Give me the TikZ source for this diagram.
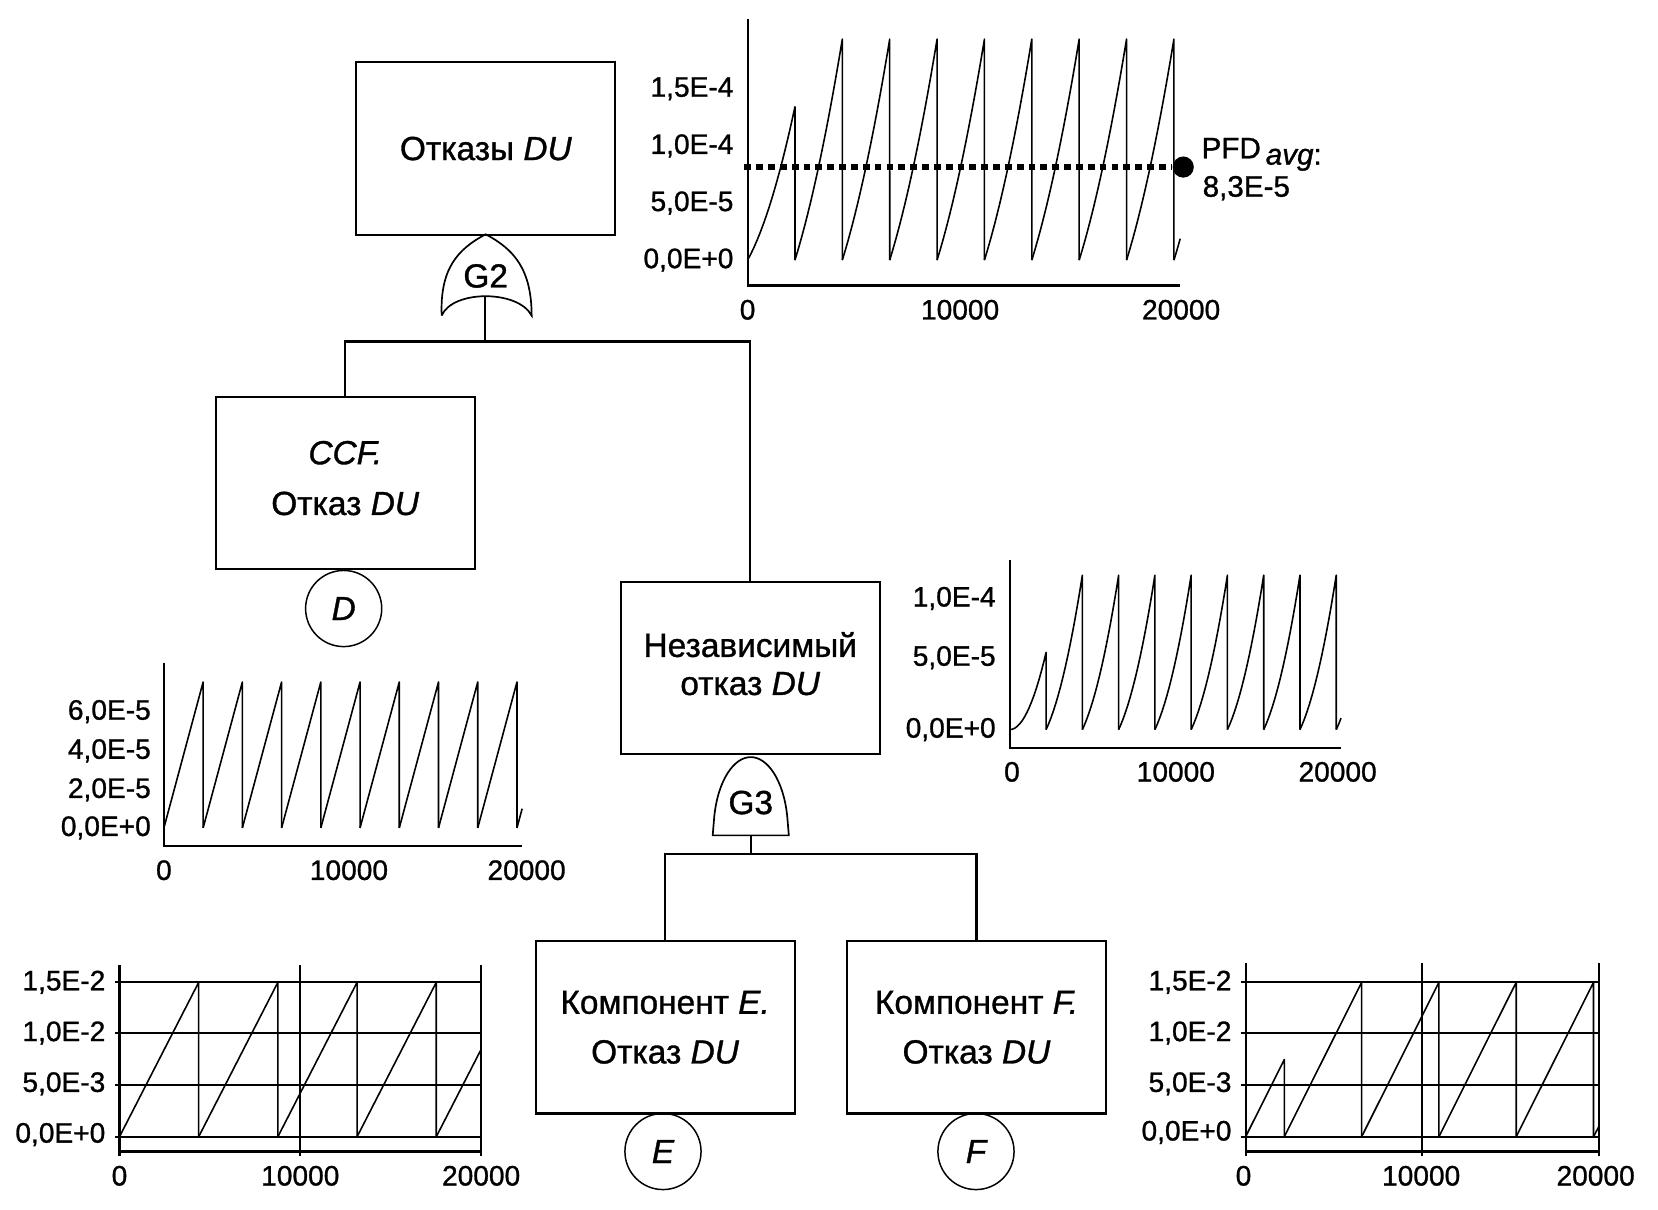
\documentclass[tikz,border=0pt]{standalone}
\usepackage{fontspec}
\setmainfont{Liberation Sans}[FakeBold=1.0]
\begin{document}
\begin{tikzpicture}[x=0.5pt,y=-0.5pt,
  evbox/.style={draw,line width=1pt,minimum width=122.5pt,minimum height=81.5pt,align=center,inner sep=0pt,font=\fontsize{15.8}{19}\selectfont},
  gateln/.style={draw,line width=0.8pt},
  gatelbl/.style={inner sep=0pt,font=\fontsize{15.8}{19}\selectfont},
  evt/.style={draw,circle,line width=0.7pt,minimum size=36pt,inner sep=0pt,font=\fontsize{15.8}{19}\selectfont\itshape},
  conn/.style={line width=1pt},
  axisln/.style={line width=1pt},
  sawln/.style={line width=0.75pt,line join=round},
  gridln/.style={line width=0.8pt},
  ticklbl/.style={inner sep=0pt,font=\fontsize{13.3}{16}\selectfont}]

\useasboundingbox (0,0) rectangle (1568,1144);

% ---------------- fault tree ----------------
\node[evbox] (A) at (459.5,140.5) {Отказы \textit{DU}};
\node[evbox] (B) at (326.5,457) {\textit{CCF.}\\[5pt]Отказ \textit{DU}\\[-14pt]\mbox{}};
\node[evbox] (C) at (709.5,631.5) {Независимый\\[-1pt]отказ \textit{DU}\\[-15pt]\mbox{}};
\node[evbox] (EB) at (629,971.5) {Компонент \textit{E.}\\[4.5pt]Отказ \textit{DU}};
\node[evbox] (FB) at (923.5,971.5) {Компонент \textit{F.}\\[4.5pt]Отказ \textit{DU}};

\node[evt] (D) at (325,575.5) {D};
\node[evt] (E) at (627,1089) {E};
\node[evt] (F) at (923,1089) {F};

% OR gate G2
\draw[gateln] (417.7,298.5) .. controls (416,255) and (432,236) .. (459.3,221.6)
  .. controls (486.6,236) and (502.6,255) .. (502.8,298.5)
  .. controls (490,274) and (428,274) .. (417.7,298.5);
\node[gatelbl] (G2) at (459.3,261) {G2};
\coordinate (g2b) at (458.5,280);
\coordinate (j2) at (458.5,323);
\draw[conn] (g2b) -- (j2);
\draw[conn] (B.north) |- (j2) -| (C.north);

% AND gate G3
\draw[gateln] (674,790) -- (675.5,772) .. controls (679,738) and (694,716) .. (710,716)
  .. controls (726,716) and (741,738) .. (744.5,772) -- (746,790) -- cycle;
\node[gatelbl] (G3) at (710,759) {G3};
\coordinate (g3b) at (710,790);
\coordinate (j3) at (710,808);
\draw[conn] (g3b) -- (j3);
\draw[conn] (EB.north) |- (j3) -| (FB.north);

% ---------------- chart: top (PFD total) ----------------
\draw[axisln] (707,18) -- (707,270) -- (1116,270);
\node[ticklbl,anchor=east] (c1y1) at (694,84) {1,5E-4};
\node[ticklbl,anchor=east] (c1y2) at (694,138) {1,0E-4};
\node[ticklbl,anchor=east] (c1y3) at (694,192) {5,0E-5};
\node[ticklbl,anchor=east] (c1y4) at (694,246) {0,0E+0};
\node[ticklbl] (c1x1) at (707,293) {0};
\node[ticklbl] (c1x2) at (908,293) {10000};
\node[ticklbl] (c1x3) at (1117,293) {20000};
\draw[sawln] (707,246) -- plot[domain=0:1,samples=16] ({707+44.8*\x},{246-81*\x-64*\x*\x}) -- (751.8,246);
\foreach \k in {1,...,8}
  \draw[sawln] ({707+44.8*\k},246) -- plot[domain=0:1,samples=16] ({707+44.8*(\k+\x)},{246-81*\x-64*\x*(\x+1)}) -- ({707+44.8*(\k+1)},246);
\draw[sawln] ({707+44.8*9},246) -- plot[domain=0:0.132,samples=4] ({707+44.8*(9+\x)},{246-81*\x-64*\x*(\x+1)});
\coordinate (pfds) at (704,158);
\node[circle,fill,inner sep=0pt,minimum size=10pt] (pfddot) at (1119,158) {};
\draw[line width=3pt,dash pattern=on 3.2pt off 2.4pt] (pfds) -- (pfddot);
\node[anchor=west,inner sep=0pt,font=\fontsize{14}{17}\selectfont] (pfdl) at (1136,146) {PFD\,\raisebox{-3pt}{\textit{avg}:}};
\node[anchor=west,inner sep=0pt,font=\fontsize{14}{17}\selectfont] (pfdv) at (1137,178) {8,3E-5};

% ---------------- chart: D ----------------
\draw[axisln] (155,627) -- (155,800) -- (494,800);
\node[ticklbl,anchor=east] (c2y1) at (143,673) {6,0E-5};
\node[ticklbl,anchor=east] (c2y2) at (143,710) {4,0E-5};
\node[ticklbl,anchor=east] (c2y3) at (143,747) {2,0E-5};
\node[ticklbl,anchor=east] (c2y4) at (143,783) {0,0E+0};
\node[ticklbl] (c2x1) at (155,823) {0};
\node[ticklbl] (c2x2) at (330,823) {10000};
\node[ticklbl] (c2x3) at (498,823) {20000};
\foreach \k in {0,...,8}
  \draw[sawln] ({155+37.1*\k},783) -- ({155+37.1*(\k+1)},645) -- ({155+37.1*(\k+1)},783);
\draw[sawln] (488.9,783) -- (493.8,764.8);

% ---------------- chart: independent ----------------
\draw[axisln] (955,530) -- (955,707) -- (1268,707);
\node[ticklbl,anchor=east] (c3y1) at (942,566) {1,0E-4};
\node[ticklbl,anchor=east] (c3y2) at (942,622) {5,0E-5};
\node[ticklbl,anchor=east] (c3y3) at (942,690) {0,0E+0};
\node[ticklbl] (c3x1) at (957,730) {0};
\node[ticklbl] (c3x2) at (1112,730) {10000};
\node[ticklbl] (c3x3) at (1265,730) {20000};
\draw[sawln] (955,690) -- plot[domain=0:1,samples=16] ({955+34.3*\x},{690-73*\x*\x}) -- (989.3,690);
\foreach \k in {1,...,8}
  \draw[sawln] ({955+34.3*\k},690) -- plot[domain=0:1,samples=16] ({955+34.3*(\k+\x)},{690-73*\x*(\x+1)}) -- ({955+34.3*(\k+1)},690);
\draw[sawln] ({955+34.3*9},690) -- plot[domain=0:0.132,samples=4] ({955+34.3*(9+\x)},{690-73*\x*(\x+1)});

% ---------------- chart: E ----------------
\foreach \yy in {929,977,1026,1075} \draw[gridln] (109,\yy) -- (455,\yy);
\draw[gridln] (284,913) -- (284,1093);
\draw[gridln] (455,913) -- (455,1093);
\draw[axisln] (113,913) -- (113,1093);
\draw[axisln] (113,1089) -- (455,1089);
\node[ticklbl,anchor=east] (c4y1) at (100,929) {1,5E-2};
\node[ticklbl,anchor=east] (c4y2) at (100,977) {1,0E-2};
\node[ticklbl,anchor=east] (c4y3) at (100,1025) {5,0E-3};
\node[ticklbl,anchor=east] (c4y4) at (100,1073) {0,0E+0};
\node[ticklbl] (c4x1) at (113,1112) {0};
\node[ticklbl] (c4x2) at (284,1112) {10000};
\node[ticklbl] (c4x3) at (455,1112) {20000};
\foreach \k in {0,...,3}
  \draw[sawln] ({113+74.9*\k},1075) -- ({113+74.9*(\k+1)},929) -- ({113+74.9*(\k+1)},1075);
\draw[sawln] (412.6,1075) -- (455,992.4);

% ---------------- chart: F ----------------
\foreach \yy in {929,977,1026,1075} \draw[gridln] (1174,\yy) -- (1512,\yy);
\draw[gridln] (1345,911) -- (1345,1093);
\draw[gridln] (1512,911) -- (1512,1093);
\draw[axisln] (1178,911) -- (1178,1093);
\draw[axisln] (1178,1089) -- (1512,1089);
\node[ticklbl,anchor=east] (c5y1) at (1165,929) {1,5E-2};
\node[ticklbl,anchor=east] (c5y2) at (1165,977) {1,0E-2};
\node[ticklbl,anchor=east] (c5y3) at (1165,1025) {5,0E-3};
\node[ticklbl,anchor=east] (c5y4) at (1165,1071) {0,0E+0};
\node[ticklbl] (c5x1) at (1176,1112) {0};
\node[ticklbl] (c5x2) at (1344,1112) {10000};
\node[ticklbl] (c5x3) at (1509,1112) {20000};
\draw[sawln] (1178,1075) -- (1214.6,1002) -- (1214.6,1075);
\foreach \k in {0,...,3}
  \draw[sawln] ({1214.6+73.1*\k},1075) -- ({1214.6+73.1*(\k+1)},929) -- ({1214.6+73.1*(\k+1)},1075);
\draw[sawln] (1507,1075) -- (1512,1065.4);
\end{tikzpicture}
\end{document}
